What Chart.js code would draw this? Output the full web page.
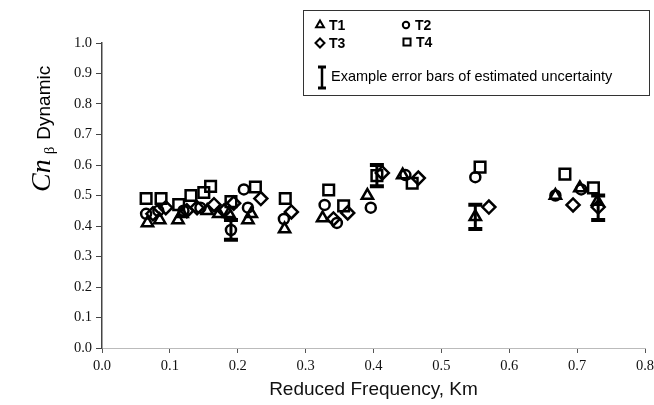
<!DOCTYPE html>
<html>
<head>
<meta charset="utf-8">
<script src="https://cdn.jsdelivr.net/npm/chart.js@4"></script>
<style>
  html, body { margin: 0; padding: 0; background: #fff; overflow: hidden; }
  #wrap { width: 654px; height: 405px; overflow: hidden; }
</style>
</head>
<body>
<div id="wrap"><canvas id="chart" width="670" height="405"></canvas></div>
<script>
// T1 - triangles
const t1X = [0.067, 0.085, 0.112, 0.118, 0.155, 0.172, 0.187, 0.215, 0.220, 0.269, 0.325, 0.391, 0.443, 0.550, 0.668, 0.704, 0.730];
const t1Y = [0.41, 0.42, 0.42, 0.44, 0.45, 0.44, 0.44, 0.42, 0.44, 0.39, 0.426, 0.50, 0.567, 0.43, 0.50, 0.525, 0.48];
// T2 - circles
const t2X = [0.065, 0.083, 0.120, 0.145, 0.190, 0.209, 0.215, 0.268, 0.328, 0.346, 0.396, 0.447, 0.550, 0.668, 0.706];
const t2Y = [0.44, 0.45, 0.45, 0.46, 0.387, 0.52, 0.46, 0.423, 0.469, 0.41, 0.46, 0.567, 0.56, 0.50, 0.52];
// T3 - diamonds
const t3X = [0.075, 0.094, 0.125, 0.140, 0.165, 0.180, 0.194, 0.234, 0.279, 0.341, 0.362, 0.413, 0.466, 0.570, 0.694, 0.731];
const t3Y = [0.44, 0.46, 0.45, 0.46, 0.47, 0.45, 0.475, 0.49, 0.446, 0.423, 0.443, 0.574, 0.557, 0.462, 0.469, 0.462];
// T4 - squares
const t4X = [0.065, 0.087, 0.113, 0.131, 0.150, 0.160, 0.190, 0.226, 0.270, 0.334, 0.356, 0.405, 0.457, 0.557, 0.682, 0.724];
const t4Y = [0.49, 0.49, 0.47, 0.50, 0.51, 0.53, 0.48, 0.528, 0.49, 0.518, 0.466, 0.565, 0.54, 0.593, 0.57, 0.525];

// example error bars
const errX = [0.190, 0.405, 0.550, 0.731];
const errLow = [0.355, 0.53, 0.39, 0.42];
const errHigh = [0.42, 0.60, 0.47, 0.50];

const xTicks = [0.0, 0.1, 0.2, 0.3, 0.4, 0.5, 0.6, 0.7, 0.8];
const yTicks = [0.0, 0.1, 0.2, 0.3, 0.4, 0.5, 0.6, 0.7, 0.8, 0.9, 1.0];

function pts(xs, ys) {
  return xs.map((x, i) => ({ x: x, y: ys[i] }));
}

const serif = '"Liberation Serif", "Times New Roman", serif';
const sans = '"Liberation Sans", Arial, sans-serif';

const errorBars = {
  id: 'errorBars',
  afterDatasetsDraw(chart) {
    const ctx = chart.ctx, xs = chart.scales.x, ys = chart.scales.y;
    ctx.save();
    ctx.strokeStyle = '#000';
    errX.forEach((x, i) => {
      const px = xs.getPixelForValue(x);
      const top = ys.getPixelForValue(errHigh[i]);
      const bot = ys.getPixelForValue(errLow[i]);
      ctx.lineWidth = 3;
      ctx.beginPath();
      ctx.moveTo(px, top);
      ctx.lineTo(px, bot);
      ctx.stroke();
      ctx.lineWidth = 4;
      ctx.beginPath();
      ctx.moveTo(px - 7, top); ctx.lineTo(px + 7, top);
      ctx.moveTo(px - 7, bot); ctx.lineTo(px + 7, bot);
      ctx.stroke();
    });
    ctx.restore();
  }
};

const yTitle = {
  id: 'yTitle',
  afterDraw(chart) {
    const ctx = chart.ctx;
    ctx.save();
    ctx.translate(50, 192);
    ctx.rotate(-Math.PI / 2);
    ctx.fillStyle = '#000';
    ctx.textBaseline = 'alphabetic';
    ctx.textAlign = 'left';
    let x = 0;
    ctx.font = 'italic 28px ' + serif;
    ctx.fillText('Cn', x, 0);
    x += ctx.measureText('Cn').width + 5;
    ctx.font = '15px ' + serif;
    ctx.fillText('\u03B2', x, 4);
    x += ctx.measureText('\u03B2').width + 7;
    ctx.font = '19px ' + sans;
    ctx.fillText('Dynamic', x, 0);
    ctx.restore();
  }
};

const legendBox = {
  id: 'legendBox',
  afterDraw(chart) {
    const ctx = chart.ctx;
    const draw = Chart.helpers.drawPoint;
    ctx.save();
    ctx.strokeStyle = '#333';
    ctx.lineWidth = 1;
    ctx.strokeRect(303.5, 10.5, 346, 85);
    ctx.strokeStyle = '#000';
    ctx.lineWidth = 2;
    const items = [
      ['triangle', 4.5, 320, 25, 'T1'],
      ['circle', 3.2, 406, 25, 'T2'],
      ['rectRot', 4.5, 320, 43, 'T3'],
      ['rect', 5, 407, 42, 'T4']
    ];
    items.forEach(it => {
      ctx.fillStyle = '#fff';
      draw(ctx, { pointStyle: it[0], radius: it[1], rotation: 0, borderWidth: 2 }, it[2], it[3]);
      ctx.fillStyle = '#000';
      ctx.font = 'bold 14px ' + sans;
      ctx.textBaseline = 'middle';
      ctx.fillText(it[4], it[2] + 9, it[3] + 1);
    });
    // error bar icon
    ctx.lineWidth = 2.5;
    ctx.beginPath();
    ctx.moveTo(322, 67); ctx.lineTo(322, 88);
    ctx.stroke();
    ctx.lineWidth = 3;
    ctx.beginPath();
    ctx.moveTo(318, 67); ctx.lineTo(326, 67);
    ctx.moveTo(318, 88); ctx.lineTo(326, 88);
    ctx.stroke();
    ctx.font = '14.5px ' + sans;
    ctx.fillText('Example error bars of estimated uncertainty', 331, 77);
    ctx.restore();
  }
};

const markerBase = {
  borderColor: '#000',
  backgroundColor: 'rgba(255,255,255,0)',
  borderWidth: 2.5,
  showLine: false
};

new Chart(document.getElementById('chart'), {
  type: 'scatter',
  data: {
    datasets: [
      { ...markerBase, label: 'T1', data: pts(t1X, t1Y), pointStyle: 'triangle', pointRadius: 6.5 },
      { ...markerBase, label: 'T2', data: pts(t2X, t2Y), pointStyle: 'circle', pointRadius: 5 },
      { ...markerBase, label: 'T3', data: pts(t3X, t3Y), pointStyle: 'rectRot', pointRadius: 6.5 },
      { ...markerBase, label: 'T4', data: pts(t4X, t4Y), pointStyle: 'rect', pointRadius: 7.5 }
    ]
  },
  options: {
    responsive: false,
    animation: false,
    layout: { padding: { left: 0, top: 43, right: 25, bottom: 0 } },
    plugins: {
      legend: { display: false },
      tooltip: { enabled: false }
    },
    scales: {
      x: {
        type: 'linear',
        min: 0, max: 0.8,
        afterFit: s => { s.height = 57; },
        afterBuildTicks: s => { s.ticks = xTicks.map(v => ({ value: v })); },
        border: { display: true, color: '#bbb', width: 1, dash: [4, 8] },
        grid: { display: true, drawOnChartArea: false, drawTicks: true, tickLength: 5, color: '#555' },
        ticks: {
          color: '#111',
          padding: 4,
          font: { family: serif, size: 14.5 },
          callback: v => v.toFixed(1)
        },
        title: {
          display: true,
          text: 'Reduced Frequency, Km',
          color: '#111',
          font: { family: sans, size: 19 },
          padding: { top: 4 }
        }
      },
      y: {
        type: 'linear',
        min: 0, max: 1.0,
        afterFit: s => { s.width = 102; },
        afterBuildTicks: s => { s.ticks = yTicks.map(v => ({ value: v })); },
        border: { display: true, color: '#444', width: 1.5 },
        grid: { display: true, drawOnChartArea: false, drawTicks: true, tickLength: 6, color: '#444' },
        ticks: {
          color: '#111',
          padding: 4,
          font: { family: serif, size: 14.5 },
          callback: v => v.toFixed(1)
        }
      }
    }
  },
  plugins: [errorBars, yTitle, legendBox]
});
</script>
</body>
</html>
